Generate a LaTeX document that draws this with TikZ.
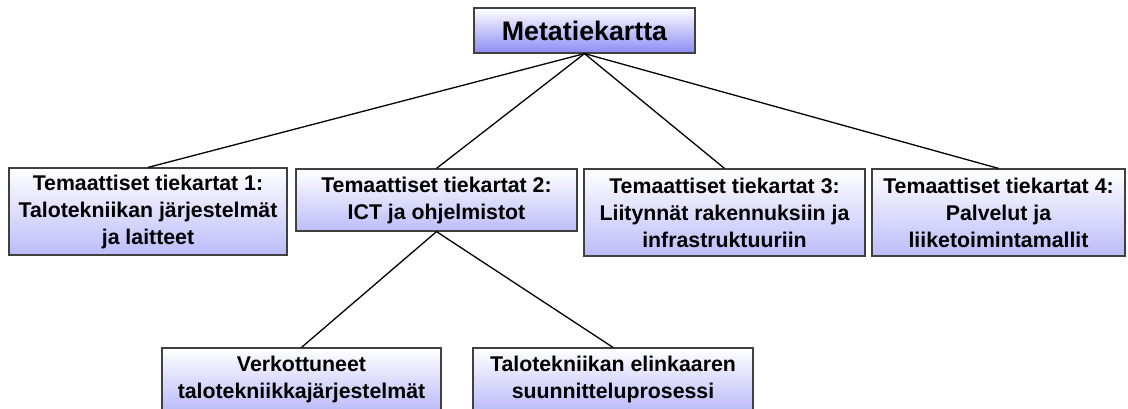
\documentclass[tikz,border=0pt]{standalone}
\usepackage{fontspec}
\setmainfont{Liberation Sans}
\definecolor{boxline}{RGB}{64,64,64}
\definecolor{rootshade}{RGB}{140,140,245}
\definecolor{boxshade}{RGB}{188,188,250}
\begin{document}
\begin{tikzpicture}[x=1pt,y=-1pt,
  box/.style={draw=boxline, line width=1.2pt, rectangle, inner sep=0pt,
    top color=white, bottom color=boxshade, align=center,
    font=\fontsize{21.3}{27}\selectfont\bfseries},
  rootbox/.style={box, bottom color=rootshade,
    font=\fontsize{26.8}{30}\selectfont\bfseries},
  link/.style={draw=black, line width=1.3pt}]
\useasboundingbox (0,0) rectangle (1128,408);
\clip (0,0) rectangle (1128,408);

% root
\node[rootbox, minimum width=221pt, minimum height=45pt] (root) at (584.5,30.5) {Metatiekartta};

% thematic roadmaps
\node[box, minimum width=278pt, minimum height=87pt] (t1) at (148,211.5)
  {Temaattiset tiekartat 1:\\Talotekniikan järjestelmät\\ja laitteet};
\node[box, minimum width=281pt, minimum height=62pt] (t2) at (436.5,200)
  {Temaattiset tiekartat 2:\\ICT ja ohjelmistot};
\node[box, minimum width=281pt, minimum height=87pt] (t3) at (724.5,212.5)
  {Temaattiset tiekartat 3:\\Liitynnät rakennuksiin ja\\infrastruktuuriin};
\node[box, minimum width=253pt, minimum height=87pt] (t4) at (998.5,212.5)
  {Temaattiset tiekartat 4:\\Palvelut ja\\liiketoimintamallit};

% sub-roadmaps of ICT
\node[box, minimum width=279pt, minimum height=62pt] (s1) at (301.5,379)
  {Verkottuneet\\talotekniikkajärjestelmät};
\node[box, minimum width=280pt, minimum height=62pt] (s2) at (613,379)
  {Talotekniikan elinkaaren\\suunnitteluprosessi};

% connectors
\foreach \c in {t1,t2,t3,t4}
  \draw[link] (root.south) -- (\c.north);
\foreach \c in {s1,s2}
  \draw[link] (t2.south) -- (\c.north);
\end{tikzpicture}
\end{document}
